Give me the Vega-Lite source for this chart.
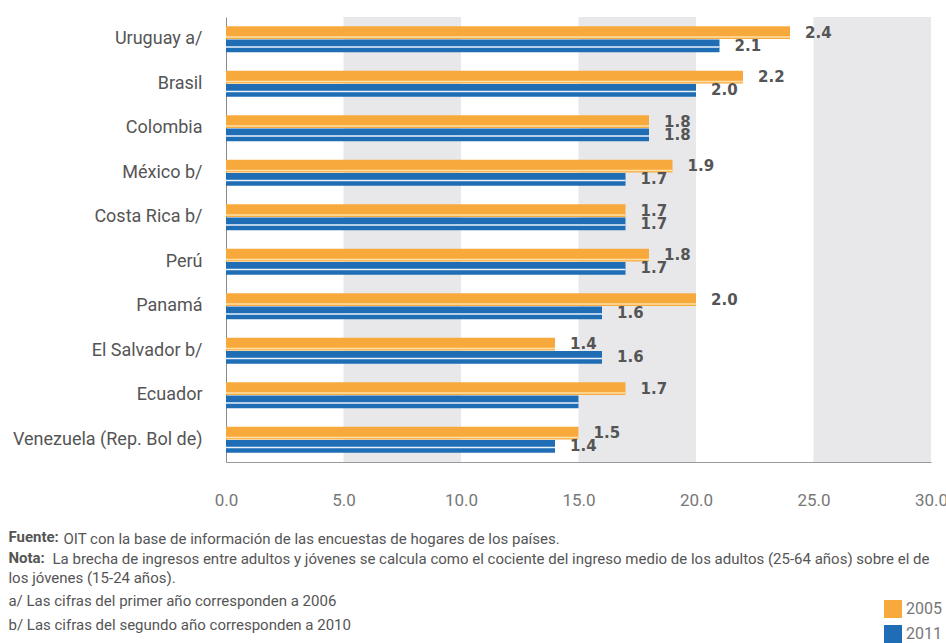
{
  "$schema": "https://vega.github.io/schema/vega-lite/v6.json",
  "autosize": {"type": "none"},
  "width": 705,
  "height": 445,
  "padding": {"left": 226, "top": 17, "right": 15, "bottom": 181},
  "background": "white",
  "config": {"view": {"stroke": null}, "font": "Roboto"},
  "datasets": {
    "bars": [
      {"pais": "Uruguay a/", "anio": "2005", "valor": 2.4, "etiqueta": "2.4"},
      {"pais": "Uruguay a/", "anio": "2011", "valor": 2.1, "etiqueta": "2.1"},
      {"pais": "Brasil", "anio": "2005", "valor": 2.2, "etiqueta": "2.2"},
      {"pais": "Brasil", "anio": "2011", "valor": 2.0, "etiqueta": "2.0"},
      {"pais": "Colombia", "anio": "2005", "valor": 1.8, "etiqueta": "1.8"},
      {"pais": "Colombia", "anio": "2011", "valor": 1.8, "etiqueta": "1.8"},
      {"pais": "México b/", "anio": "2005", "valor": 1.9, "etiqueta": "1.9"},
      {"pais": "México b/", "anio": "2011", "valor": 1.7, "etiqueta": "1.7"},
      {"pais": "Costa Rica b/", "anio": "2005", "valor": 1.7, "etiqueta": "1.7"},
      {"pais": "Costa Rica b/", "anio": "2011", "valor": 1.7, "etiqueta": "1.7"},
      {"pais": "Perú", "anio": "2005", "valor": 1.8, "etiqueta": "1.8"},
      {"pais": "Perú", "anio": "2011", "valor": 1.7, "etiqueta": "1.7"},
      {"pais": "Panamá", "anio": "2005", "valor": 2.0, "etiqueta": "2.0"},
      {"pais": "Panamá", "anio": "2011", "valor": 1.6, "etiqueta": "1.6"},
      {"pais": "El Salvador b/", "anio": "2005", "valor": 1.4, "etiqueta": "1.4"},
      {"pais": "El Salvador b/", "anio": "2011", "valor": 1.6, "etiqueta": "1.6"},
      {"pais": "Ecuador", "anio": "2005", "valor": 1.7, "etiqueta": "1.7"},
      {"pais": "Ecuador", "anio": "2011", "valor": 1.5, "etiqueta": ""},
      {"pais": "Venezuela (Rep. Bol de)", "anio": "2005", "valor": 1.5, "etiqueta": "1.5"},
      {"pais": "Venezuela (Rep. Bol de)", "anio": "2011", "valor": 1.4, "etiqueta": "1.4"}
    ],
    "bandas": [
      {"desde": 0.5, "hasta": 1.0},
      {"desde": 1.5, "hasta": 2.0},
      {"desde": 2.5, "hasta": 3.0}
    ]
  },
  "title": {
    "text": ["Fuente:", "Nota:"],
    "subtitle": ["los jóvenes (15-24 años).", "a/ Las cifras del primer año corresponden a 2006", "b/ Las cifras del segundo año corresponden a 2010"],
    "orient": "bottom",
    "anchor": "start",
    "frame": "bounds",
    "dx": -4,
    "font": "Roboto",
    "fontSize": 15,
    "fontWeight": "bold",
    "color": "#555555",
    "lineHeight": 20.5,
    "subtitleFont": "Roboto",
    "subtitleFontSize": 15,
    "subtitleFontWeight": "normal",
    "subtitleColor": "#555555",
    "subtitleLineHeight": 23.5,
    "subtitlePadding": 5,
    "offset": -113
  },
  "layer": [
    {
      "data": {"name": "bandas"},
      "mark": {"type": "rect", "color": "#E8E8EB"},
      "encoding": {
        "x": {"field": "desde", "type": "quantitative", "scale": {"domain": [0, 3]}},
        "x2": {"field": "hasta"}
      }
    },
    {
      "data": {"name": "bars"},
      "resolve": {"scale": {"yOffset": "independent"}},
      "encoding": {
        "y": {
          "field": "pais", "type": "nominal", "sort": null,
          "scale": {"paddingInner": 0.416, "paddingOuter": 0.208},
          "axis": {"title": "La brecha de ingresos entre adultos y jóvenes se calcula como el cociente del ingreso medio de los adultos (25-64 años) sobre el de", "titleAngle": 0, "titleAlign": "left", "titleBaseline": "top", "titleX": -174, "titleY": 534, "titleFont": "Roboto", "titleFontSize": 15, "titleFontWeight": "normal", "titleColor": "#555555", "ticks": false, "domainColor": "#8a8a8a", "labelPadding": 24, "labelFontSize": 18, "labelColor": "#555555", "labelFont": "Roboto", "labelLimit": 400}
        },
        "x": {
          "field": "valor", "type": "quantitative",
          "scale": {"domain": [0, 3]},
          "axis": {"title": "OIT con la base de información de las encuestas de hogares de los países.", "titleFont": "Roboto", "titleFontSize": 15, "titleFontWeight": "normal", "titleColor": "#555555", "titleAnchor": "start", "titleAlign": "left", "titleBaseline": "top", "titleX": -163, "titleY": 69, "grid": false, "ticks": false, "values": [0, 0.5, 1, 1.5, 2, 2.5, 3], "labelExpr": "format(datum.value * 10, '.1f')", "domainColor": "#9a9a9a", "labelPadding": 30, "labelFontSize": 17, "labelColor": "#777777", "labelFont": "Roboto", "labelFlush": false}
        }
      },
      "layer": [
        {
          "mark": {"type": "bar"},
          "encoding": {
            "yOffset": {"field": "anio", "type": "nominal", "scale": {"paddingInner": 0.05}},
            "color": {
              "field": "anio", "type": "nominal",
              "scale": {"domain": ["2005", "2011"], "range": ["#F8A93C", "#1F6DB5"]},
              "legend": {"title": null, "orient": "none", "legendX": 658, "legendY": 583, "symbolType": "square", "symbolSize": 324, "symbolStrokeWidth": 0, "labelFontSize": 16, "labelColor": "#777777", "labelFont": "Roboto", "labelOffset": 4, "rowPadding": 7}
            }
          }
        },
        {
          "mark": {"type": "bar"},
          "encoding": {
            "yOffset": {"field": "anio", "type": "nominal", "scale": {"paddingInner": 0.85, "paddingOuter": 0.725, "align": 0.69}},
            "fill": {
              "field": "anio", "type": "nominal",
              "scale": {"domain": ["2005", "2011"], "range": ["#FCE2A8", "#EAF2FB"]},
              "legend": null
            }
          }
        },
        {
          "mark": {"type": "text", "align": "left", "baseline": "middle", "dx": 15, "font": "DejaVu Sans", "fontWeight": "bold", "fontSize": 15, "color": "#555555"},
          "encoding": {
            "yOffset": {"field": "anio", "type": "nominal", "scale": {"paddingInner": 0.05}},
            "text": {"field": "etiqueta"}
          }
        }
      ]
    }
  ]
}
